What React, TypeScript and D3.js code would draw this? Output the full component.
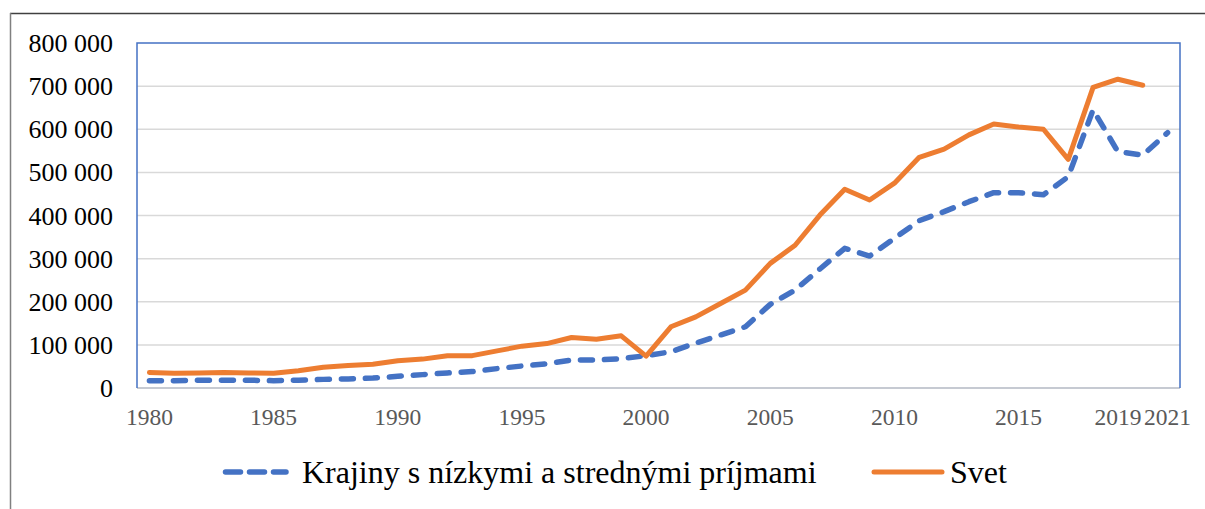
import React from "react";
import * as d3 from "d3";

const years: number[] = [
  1980, 1981, 1982, 1983, 1984, 1985, 1986, 1987, 1988, 1989,
  1990, 1991, 1992, 1993, 1994, 1995, 1996, 1997, 1998, 1999,
  2000, 2001, 2002, 2003, 2004, 2005, 2006, 2007, 2008, 2009,
  2010, 2011, 2012, 2013, 2014, 2015, 2016, 2017, 2018, 2019,
  2020, 2021,
];

const krajiny: (number | null)[] = [
  17000, 17000, 18000, 18000, 18000, 17000, 18000, 20000, 21000, 23000,
  27000, 31000, 35000, 38000, 45000, 51000, 56000, 65000, 65000, 68000,
  75000, 84000, 104000, 123000, 142000, 194000, 227000, 276000, 324000, 306000,
  347000, 388000, 409000, 432000, 453000, 453000, 448000, 490000, 645000, 548000,
  540000, 592000,
];

const svet: (number | null)[] = [
  36000, 34000, 35000, 36000, 35000, 34000, 40000, 48000, 52000, 55000,
  63000, 67000, 75000, 75000, 86000, 97000, 103000, 117000, 113000, 121000,
  74000, 142000, 165000, 196000, 227000, 289000, 331000, 401000, 461000, 436000,
  475000, 535000, 554000, 587000, 612000, 605000, 600000, 530000, 697000, 716000,
  702000, null,
];

const yTicks: number[] = [0, 100000, 200000, 300000, 400000, 500000, 600000, 700000, 800000];
const xTickYears: number[] = [1980, 1985, 1990, 1995, 2000, 2005, 2010, 2015, 2019, 2021];

const seriesNames = ["Krajiny s nízkymi a strednými príjmami", "Svet"];

const W = 1205;
const H = 509;
const left = 137;
const right = 1180;
const top = 43;
const bottom = 388;

const FONT = "'Liberation Serif', 'Times New Roman', serif";

const fmt = (v: number) => {
  if (v === 0) return "0";
  const s = d3.format(",")(v);
  return s.replace(/,/g, " ");
};

export default function App() {
  const x = d3.scaleBand<number>().domain(years).range([left, right]).padding(0);
  const xc = (yr: number) => (x(yr) as number) + x.bandwidth() / 2;
  const y = d3.scaleLinear().domain([0, 800000]).range([bottom, top]);

  const line = d3
    .line<number | null>()
    .defined((d) => d !== null)
    .x((_, i) => xc(years[i]))
    .y((d) => y(d as number));

  return (
    <svg
      width={W}
      height={H}
      style={{ position: "absolute", left: 0, top: 0, background: "#fff" }}
    >
      <rect x={0} y={0} width={W} height={H} fill="#fff" />
      {/* outer frame */}
      <line x1={10} y1={13.5} x2={W} y2={13.5} stroke="#404040" strokeWidth={1.5} />
      <line x1={10.5} y1={13} x2={10.5} y2={H} stroke="#808080" strokeWidth={1.5} />

      {/* gridlines */}
      {yTicks
        .filter((t) => t > 0 && t < 800000)
        .map((t) => (
          <line
            key={t}
            x1={left}
            x2={right}
            y1={y(t)}
            y2={y(t)}
            stroke="#D9D9D9"
            strokeWidth={1.5}
          />
        ))}
      {/* bottom axis */}
      <line x1={left} x2={right} y1={bottom} y2={bottom} stroke="#C6CAD2" strokeWidth={2} />
      {/* plot border */}
      <path
        d={`M${left},${bottom} L${left},${top} L${right},${top} L${right},${bottom}`}
        fill="none"
        stroke="#4472C4"
        strokeWidth={1.5}
      />

      {/* y labels */}
      {yTicks.map((t) => (
        <text
          key={t}
          x={113}
          y={y(t) + 9}
          textAnchor="end"
          fontFamily={FONT}
          fontSize={26}
          fill="#000"
        >
          {fmt(t)}
        </text>
      ))}

      {/* x labels */}
      {xTickYears.map((yr) => (
        <text
          key={yr}
          x={xc(yr)}
          y={425}
          textAnchor="middle"
          fontFamily={FONT}
          fontSize={23.5}
          fill="#595959"
        >
          {yr}
        </text>
      ))}

      {/* series */}
      <path
        d={line(krajiny) || ""}
        fill="none"
        stroke="#4472C4"
        strokeWidth={5.5}
        strokeDasharray="12 12"
        strokeLinecap="round"
        strokeLinejoin="round"
      />
      <path
        d={line(svet) || ""}
        fill="none"
        stroke="#ED7D31"
        strokeWidth={5}
        strokeLinecap="round"
        strokeLinejoin="round"
      />

      {/* legend */}
      <line
        x1={225.5}
        x2={286}
        y1={472}
        y2={472}
        stroke="#4472C4"
        strokeWidth={5.5}
        strokeDasharray="15 9"
        strokeLinecap="round"
      />
      <text x={302} y={483} fontFamily={FONT} fontSize={32} fill="#000">
        {seriesNames[0]}
      </text>
      <line
        x1={874}
        x2={942}
        y1={472}
        y2={472}
        stroke="#ED7D31"
        strokeWidth={5}
        strokeLinecap="round"
      />
      <text x={950} y={483} fontFamily={FONT} fontSize={32} fill="#000">
        {seriesNames[1]}
      </text>
    </svg>
  );
}
